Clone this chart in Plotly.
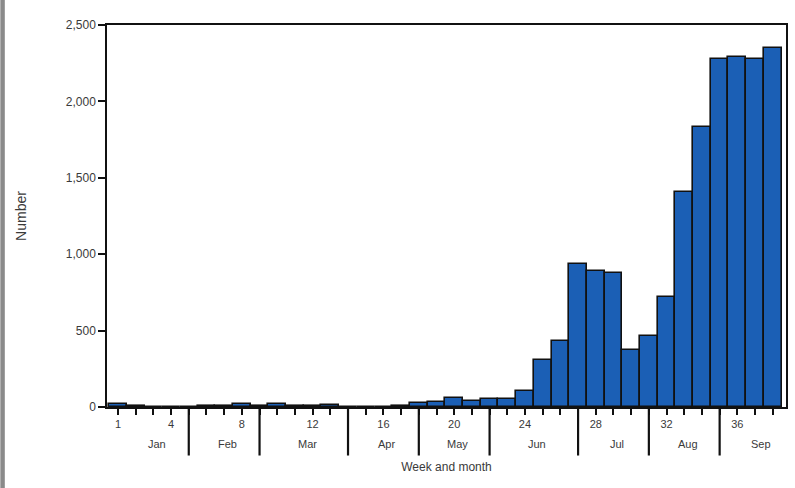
import plotly.graph_objects as go

weeks = list(range(1, 39))
counts = [20, 5, 3, 3, 3, 5, 8, 20, 5, 18, 5, 5, 15, 3, 3, 3, 5, 25, 30, 60,
          40, 50, 55, 105, 310, 435, 935, 890, 875, 370, 465, 720, 1410, 1835,
          2275, 2290, 2275, 2350]
week_labels = {1: "1", 4: "4", 8: "8", 12: "12", 16: "16", 20: "20", 24: "24",
               28: "28", 32: "32", 36: "36"}
month_names = ["Jan", "Feb", "Mar", "Apr", "May", "Jun", "Jul", "Aug", "Sep"]
month_starts = [1, 5, 9, 14, 18, 22, 27, 31, 35]
month_bounds = [5, 9, 14, 18, 22, 27, 31, 35]
x_end = 38.75
y_ticks = [0, 500, 1000, 1500, 2000, 2500]

BAR = "#1b5fb5"
TXT = "#3a3a3a"

fig = go.Figure()
fig.add_trace(go.Bar(
    x=weeks, y=counts,
    marker=dict(color=BAR, line=dict(color="#111111", width=1.6)),
    width=1.0,
))

shapes = []
for b in month_bounds:
    shapes.append(dict(type="line", xref="x", yref="paper", x0=b, x1=b,
                       y0=0, y1=-0.127, line=dict(color="#111111", width=2.2)))
# left gray frame strip
shapes.append(dict(type="rect", xref="paper", yref="paper", x0=-0.1571, x1=-0.1505,
                   y0=-0.22, y1=1.07, fillcolor="#8a8a8a", line=dict(width=0),
                   layer="below"))

annotations = []
ends = month_starts[1:] + [x_end + 0.5]
for name, s, e in zip(month_names, month_starts, ends):
    annotations.append(dict(x=(s + e) / 2 + 0.2, y=-0.098, xref="x", yref="paper",
                            text=name, showarrow=False,
                            font=dict(size=11, color=TXT),
                            xanchor="center", yanchor="middle"))

fig.update_layout(
    width=795, height=488,
    margin=dict(l=107, r=7, t=25, b=81),
    paper_bgcolor="white", plot_bgcolor="white",
    bargap=0, showlegend=False,
    font=dict(family="Liberation Sans, Arial, sans-serif", size=11, color=TXT),
    shapes=shapes, annotations=annotations,
    xaxis=dict(
        range=[0.38, x_end], tickmode="array", tickvals=weeks,
        ticktext=[week_labels.get(w, "") for w in weeks],
        ticks="outside", ticklen=6, tickwidth=1.5, tickcolor="#111111",
        showline=True, linecolor="#111111", linewidth=1.5, mirror=True,
        showgrid=False, zeroline=False, tickangle=0,
        tickfont=dict(size=11, color=TXT),
        title=dict(text="Week and month", font=dict(size=12, color=TXT), standoff=34),
    ),
    yaxis=dict(
        range=[0, 2500], tickmode="array", tickvals=y_ticks, tickformat=",d",
        ticks="outside", ticklen=7, tickwidth=1.5, tickcolor="#111111",
        showline=True, linecolor="#111111", linewidth=1.5, mirror=True,
        showgrid=False, zeroline=False,
        tickfont=dict(size=12, color=TXT),
        title=dict(text="Number", font=dict(size=14, color=TXT), standoff=36),
    ),
)

fig.write_html("out.html", config={"displayModeBar": False},
               post_script="document.body.style.margin='0px';")
